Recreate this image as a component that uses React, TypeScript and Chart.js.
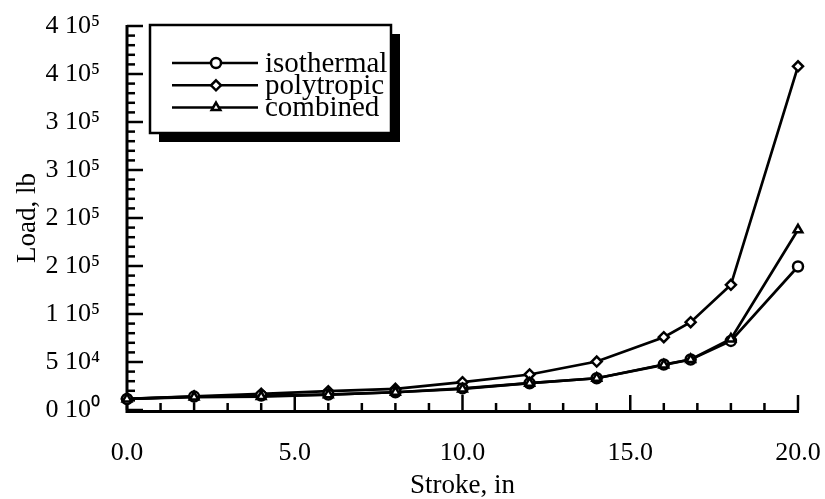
import { useEffect, useRef } from "react";
import { Chart, registerables } from "chart.js";

Chart.register(...registerables);

const strokeIn = [0, 2, 4, 6, 8, 10, 12, 14, 16, 16.8, 18, 20];
const isothermal = [11500, 14000, 15000, 16100, 18500, 22500, 27900, 33100, 47400, 52600, 72000, 149500];
const polytropic = [11500, 14200, 16900, 19600, 22000, 29000, 37000, 50500, 75800, 91500, 130400, 358000];
const combined = [11500, 13500, 14000, 16000, 18500, 22000, 27900, 33100, 47000, 52600, 74000, 187700];

const seriesNames = ["isothermal", "polytropic", "combined"];
const seriesMarkers = ["circle", "rectRot", "triangle"];
const yTickLabels = ["0 10⁰", "5 10⁴", "1 10⁵", "2 10⁵", "2 10⁵", "3 10⁵", "3 10⁵", "4 10⁵", "4 10⁵"];
const xTickLabels = ["0.0", "5.0", "10.0", "15.0", "20.0"];

const FONT = "'Liberation Serif', 'Times New Roman', serif";

function drawMarker(ctx: CanvasRenderingContext2D, style: string, x: number, y: number, r: number) {
  ctx.beginPath();
  if (style === "circle") {
    ctx.arc(x, y, r, 0, Math.PI * 2);
  } else if (style === "rectRot") {
    ctx.moveTo(x, y - r);
    ctx.lineTo(x + r, y);
    ctx.lineTo(x, y + r);
    ctx.lineTo(x - r, y);
    ctx.closePath();
  } else {
    const h = r * 1.5;
    ctx.moveTo(x, y - r);
    ctx.lineTo(x + r * 0.866, y + h - r);
    ctx.lineTo(x - r * 0.866, y + h - r);
    ctx.closePath();
  }
  ctx.fillStyle = "#fff";
  ctx.fill();
  ctx.stroke();
}

const axesPlugin = {
  id: "axesPlugin",
  beforeDatasetsDraw(chart: any) {
    const { ctx, chartArea } = chart;
    const xs = chart.scales.x;
    const ys = chart.scales.y;
    ctx.save();
    ctx.strokeStyle = "#000";
    ctx.lineCap = "butt";
    ctx.lineWidth = 2.5;
    for (let v = ys.min; v <= ys.max + 1; v += 10000) {
      const py = ys.getPixelForValue(v);
      const major = Math.round(v) % 50000 === 0;
      ctx.beginPath();
      ctx.moveTo(chartArea.left, py);
      ctx.lineTo(chartArea.left + (major ? 16 : 8), py);
      ctx.stroke();
    }
    for (let v = xs.min; v <= xs.max + 0.001; v += 1) {
      const px = xs.getPixelForValue(v);
      const major = Math.round(v) % 5 === 0;
      ctx.beginPath();
      ctx.moveTo(px, chartArea.bottom);
      ctx.lineTo(px, chartArea.bottom - (major ? 15 : 7));
      ctx.stroke();
    }
    ctx.lineWidth = 3;
    ctx.beginPath();
    ctx.moveTo(chartArea.left, chartArea.top - 1);
    ctx.lineTo(chartArea.left, chartArea.bottom + 1.5);
    ctx.lineTo(chartArea.right + 1, chartArea.bottom + 1.5);
    ctx.stroke();
    ctx.restore();
  },
};

const legendPlugin = {
  id: "boxLegend",
  afterDraw(chart: any) {
    const { ctx, chartArea } = chart;
    const bx = chartArea.left + 23;
    const by = chartArea.top - 1;
    const bw = 241;
    const bh = 108;
    const sh = 9;
    ctx.save();
    ctx.fillStyle = "#000";
    ctx.fillRect(bx + sh, by + sh, bw, bh);
    ctx.fillStyle = "#fff";
    ctx.fillRect(bx, by, bw, bh);
    ctx.strokeStyle = "#000";
    ctx.lineWidth = 2.5;
    ctx.strokeRect(bx, by, bw, bh);
    ctx.font = `29px ${FONT}`;
    ctx.textBaseline = "middle";
    ctx.textAlign = "left";
    chart.data.datasets.forEach((ds: any, i: number) => {
      const ry = by + 38 + i * 22.3;
      ctx.lineWidth = 2.5;
      ctx.beginPath();
      ctx.moveTo(bx + 22, ry);
      ctx.lineTo(bx + 108, ry);
      ctx.stroke();
      drawMarker(ctx, seriesMarkers[i], bx + 66, ry, 5);
      ctx.fillStyle = "#000";
      ctx.fillText(ds.label, bx + 115, ry + 1);
    });
    ctx.restore();
  },
};

function zeroPadding(s: any) {
  s.paddingTop = 0;
  s.paddingBottom = 0;
  s.paddingLeft = 0;
  s.paddingRight = 0;
}

export default function App() {
  const ref = useRef<HTMLCanvasElement | null>(null);
  useEffect(() => {
    document.body.style.margin = "0";
    if (!ref.current) return;
    const series = [isothermal, polytropic, combined];
    const chart = new Chart(ref.current, {
      type: "line",
      data: {
        datasets: series.map((vals, i) => ({
          label: seriesNames[i],
          data: strokeIn.map((x, j) => ({ x, y: vals[j] })),
          borderColor: "#000",
          borderWidth: 2.7,
          pointStyle: seriesMarkers[i] as any,
          pointRadius: 5,
          pointBorderWidth: 2.5,
          pointBackgroundColor: "#fff",
          pointBorderColor: "#000",
          tension: 0,
          clip: false as any,
          order: i === 2 ? 0 : i === 0 ? 1 : 2,
        })),
      },
      options: {
        animation: false,
        responsive: false,
        events: [],
        layout: { padding: { top: 26, right: 27, left: 0, bottom: 0 } },
        plugins: { legend: { display: false }, tooltip: { enabled: false } },
        scales: {
          x: {
            type: "linear",
            min: 0,
            max: 20,
            grid: { display: false, drawTicks: false },
            border: { display: false },
            ticks: {
              stepSize: 5,
              padding: 28,
              color: "#000",
              font: { family: FONT, size: 26 },
              callback: (v: any) => xTickLabels[Math.round(Number(v) / 5)] ?? "",
            },
            title: {
              display: true,
              text: "Stroke, in",
              color: "#000",
              font: { family: FONT, size: 27, lineHeight: 1.0 },
              padding: { top: 0, bottom: 0 },
            },
            afterFit: (s: any) => {
              s.height = 89;
              zeroPadding(s);
            },
          },
          y: {
            type: "linear",
            min: 0,
            max: 400000,
            grid: { display: false, drawTicks: false },
            border: { display: false },
            ticks: {
              stepSize: 50000,
              padding: 27,
              color: "#000",
              font: { family: FONT, size: 26 },
              callback: (v: any) => yTickLabels[Math.round(Number(v) / 50000)] ?? "",
            },
            title: {
              display: true,
              text: "Load, lb",
              color: "#000",
              font: { family: FONT, size: 27, lineHeight: 1.2 },
              padding: { top: 12, bottom: 0 },
            },
            afterFit: (s: any) => {
              s.width = 127;
              zeroPadding(s);
            },
          },
        },
      },
      plugins: [axesPlugin, legendPlugin],
    });
    return () => chart.destroy();
  }, []);
  return (
    <div style={{ width: 825, height: 499 }}>
      <canvas ref={ref} width={825} height={499} style={{ display: "block" }} />
    </div>
  );
}
